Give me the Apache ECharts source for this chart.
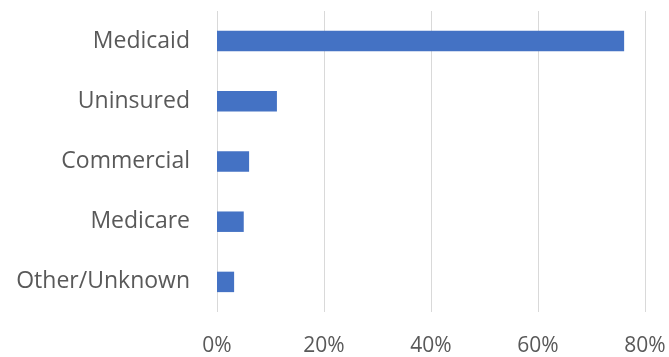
<!DOCTYPE html>
<html>
<head>
<meta charset="utf-8">
<script src="https://cdn.jsdelivr.net/npm/echarts@6/dist/echarts.min.js"></script>
<style>
  html, body { margin: 0; padding: 0; background: #ffffff; }
  #chart { width: 669px; height: 357px; }
</style>
</head>
<body>
<div id="chart"></div>
<script>
// Payer categories, listed top to bottom
const categories = ['Medicaid', 'Uninsured', 'Commercial', 'Medicare', 'Other/Unknown'];
// Share of patients per payer, in percent
const shares = [76.1, 11.2, 6.0, 5.0, 3.2];
// Value-axis ticks, in percent
const tickValues = [0, 20, 40, 60, 80];

const textColor = '#595959';
const fontFamily = '"Open Sans", "Noto Sans", sans-serif';

const chart = echarts.init(document.getElementById('chart'), null, { renderer: 'canvas' });

chart.setOption({
  animation: false,
  backgroundColor: '#ffffff',
  grid: { left: 217, right: 24, top: 11, bottom: 45, containLabel: false },
  xAxis: {
    type: 'value',
    min: tickValues[0],
    max: tickValues[tickValues.length - 1],
    interval: tickValues[1] - tickValues[0],
    axisLine: { show: false },
    axisTick: { show: false },
    splitLine: { show: true, lineStyle: { color: '#d9d9d9', width: 1 } },
    axisLabel: {
      formatter: v => v + '%',
      color: textColor,
      fontFamily: fontFamily,
      fontSize: 21,
      margin: 24
    }
  },
  yAxis: {
    type: 'category',
    data: categories,
    inverse: true,
    axisLine: { show: false },
    axisTick: { show: false },
    axisLabel: {
      color: textColor,
      fontFamily: fontFamily,
      fontSize: 23,
      margin: 27
    }
  },
  series: [{
    type: 'bar',
    data: shares,
    barCategoryGap: '66%',
    itemStyle: { color: '#4472c4' }
  }]
});
</script>
</body>
</html>
